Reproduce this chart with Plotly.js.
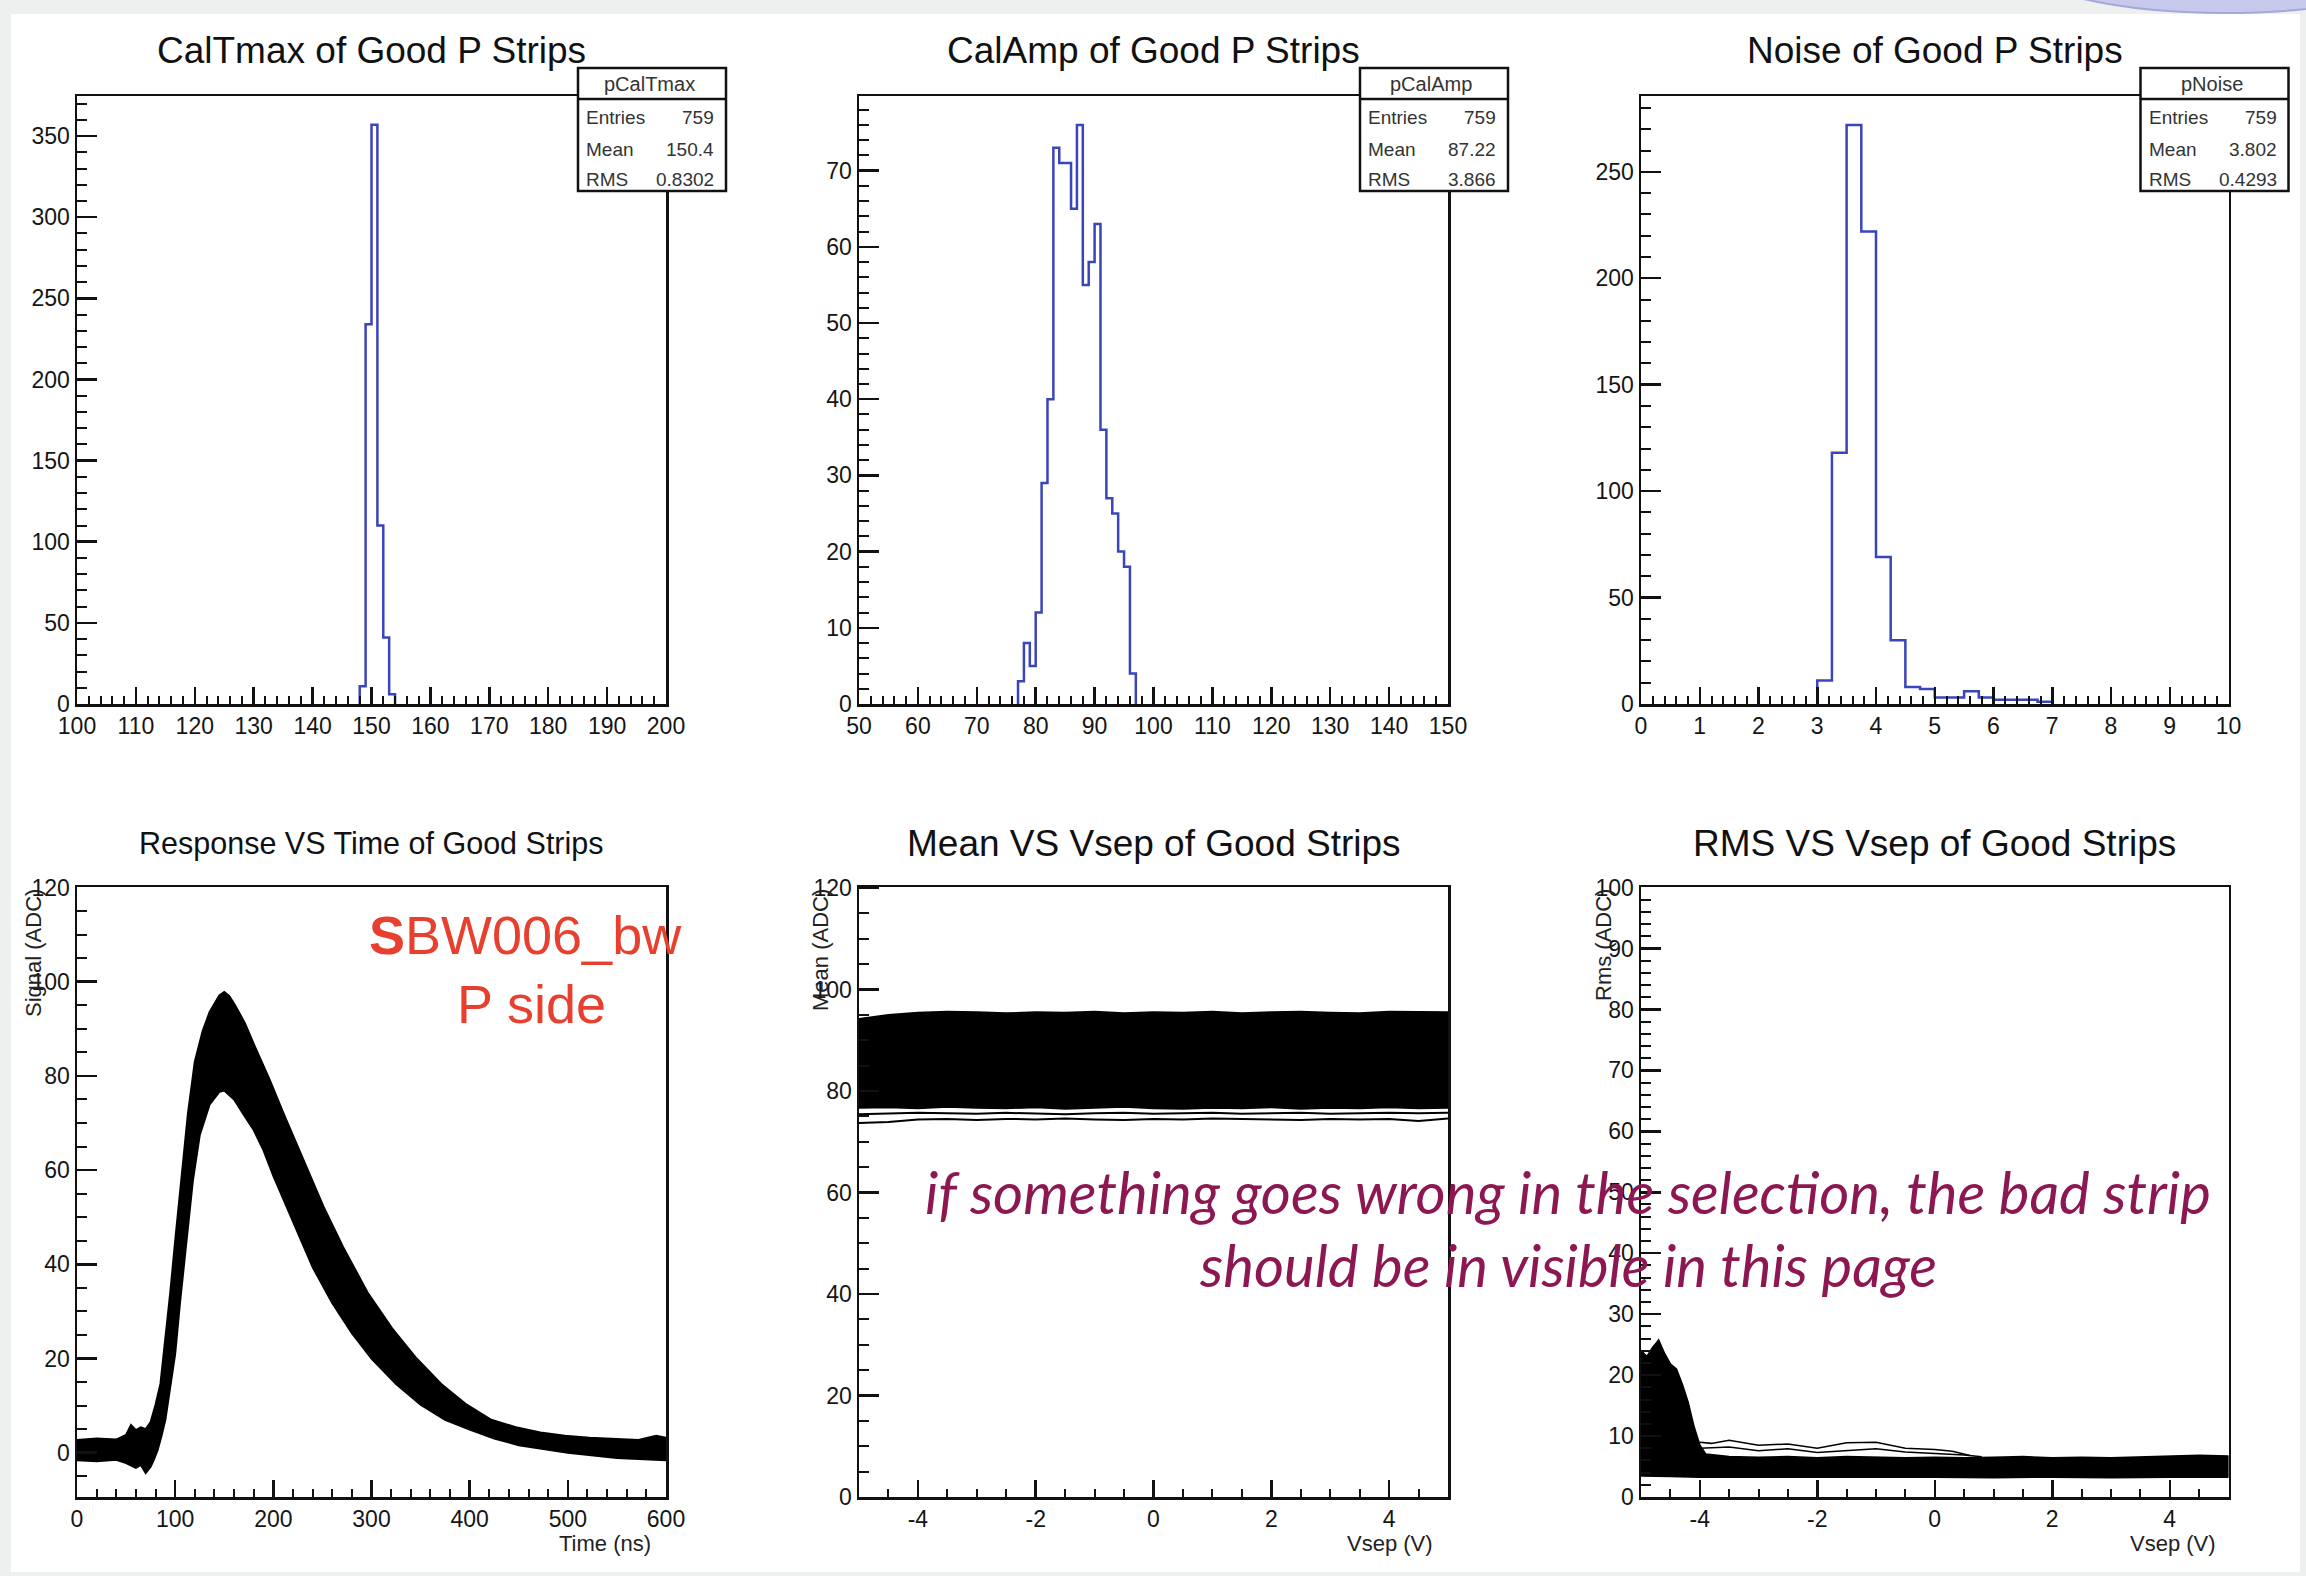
<!DOCTYPE html>
<html>
<head>
<meta charset="utf-8">
<script src="https://cdn.plot.ly/plotly-3.0.1.min.js"></script>
<style>html,body{margin:0;padding:0;background:#fff;}#chart{width:2306px;height:1576px;}</style>
</head>
<body>
<div id="chart"></div>
<script>
// ---------------- DATA ----------------
// CalTmax histogram (bin width 1, range 100-200)
const calTmaxBinLow = [148, 149, 150, 151, 152, 153];
const calTmaxCounts = [11, 234, 357, 110, 41, 6];
// CalAmp histogram (bin width 1, range 50-150)
const calAmpBinLow = [77, 78, 79, 80, 81, 82, 83, 84, 85, 86, 87, 88, 89, 90, 91, 92, 93, 94, 95, 96];
const calAmpCounts = [3, 8, 5, 12, 29, 40, 73, 71, 71, 65, 76, 55, 58, 63, 36, 27, 25, 20, 18, 4];
// Noise histogram (bin width 0.25, range 0-10)
const noiseBinLow = [3.0, 3.25, 3.5, 3.75, 4.0, 4.25, 4.5, 4.75, 5.0, 5.25, 5.5, 5.75, 6.0, 6.25, 6.5, 6.75];
const noiseCounts = [11, 118, 272, 222, 69, 30, 8, 7, 3, 3, 6, 3, 2, 2, 2, 1];

// Stats boxes
const statNames = ["pCalTmax", "pCalAmp", "pNoise"];
const statEntries = ["759", "759", "759"];
const statMean = ["150.4", "87.22", "3.802"];
const statRMS = ["0.8302", "3.866", "0.4293"];

// Response vs time: envelope of the band of all strip waveforms
const respUpperT = [0, 20, 40, 50, 55, 60, 65, 70, 75, 80, 85, 90, 95, 100, 105, 110, 113, 120, 128, 135, 145, 150, 155, 161, 171, 181, 196, 211, 231, 251, 271, 296, 321, 346, 371, 397, 422, 447, 472, 497, 522, 547, 572, 590, 600];
const respUpperV = [2.7, 3.0, 2.8, 3.8, 5.9, 4.8, 5.4, 5.0, 6.5, 10.2, 14.6, 24, 34, 45, 56, 66, 72, 83, 89.5, 93.5, 97.1, 97.8, 97, 95, 91.2, 86.3, 79.3, 71.7, 62, 52.3, 43.7, 34, 26.4, 20, 14.6, 10.2, 7, 5.4, 4.3, 3.6, 3.2, 3.0, 2.7, 3.6, 3.2];
const respLowerT = [0, 20, 40, 50, 60, 65, 70, 75, 78, 82, 86, 90, 95, 100, 105, 110, 118, 125, 135, 145, 150, 160, 170, 180, 190, 200, 220, 240, 260, 280, 300, 325, 350, 375, 400, 425, 450, 475, 500, 550, 600];
const respLowerV = [-1.6, -1.8, -1.5, -2.2, -3.2, -2.6, -4.3, -3.0, -1.6, 0.5, 3.5, 7, 14, 21, 32, 42.6, 57.7, 67.4, 73.9, 76.6, 76.9, 75, 71.7, 68.5, 64.2, 58.8, 49.1, 39.4, 31.8, 25.4, 20, 14.6, 10.2, 7, 4.9, 3.0, 1.6, 0.8, 0, -1.1, -1.6];

// Mean vs Vsep
const vsep = [-5, -4.5, -4, -3.5, -3, -2.5, -2, -1.5, -1, -0.5, 0, 0.5, 1, 1.5, 2, 2.5, 3, 3.5, 4, 4.5, 5];
const meanUpper = [94.2, 95.0, 95.4, 95.6, 95.5, 95.3, 95.5, 95.4, 95.6, 95.3, 95.5, 95.4, 95.6, 95.3, 95.5, 95.6, 95.4, 95.3, 95.6, 95.5, 95.5];
const meanLower = [76.7, 76.8, 76.6, 76.9, 76.7, 76.6, 76.8, 76.5, 76.7, 76.9, 76.6, 76.5, 76.7, 76.6, 76.8, 76.5, 76.7, 76.6, 76.8, 76.6, 76.7];
const meanLineA = [75.4, 75.5, 75.7, 75.6, 75.5, 75.7, 75.6, 75.4, 75.6, 75.7, 75.5, 75.6, 75.7, 75.5, 75.6, 75.7, 75.5, 75.6, 75.7, 75.6, 75.7];
const meanLineB = [73.7, 73.9, 74.4, 74.5, 74.3, 74.5, 74.4, 74.6, 74.4, 74.3, 74.5, 74.4, 74.6, 74.5, 74.4, 74.3, 74.5, 74.4, 74.5, 74.1, 74.6];

// RMS vs Vsep
const rmsUpperX = [-5, -4.9, -4.8, -4.7, -4.6, -4.5, -4.4, -4.3, -4.2, -4.1, -4.0, -3.9, -3.5, -3, -2.5, -2, -1.5, -1, -0.5, 0, 0.5, 1, 1.5, 2, 2.5, 3, 3.5, 4, 4.5, 5];
const rmsUpperV = [24.0, 23.0, 24.5, 25.7, 23.5, 21.8, 21.0, 18.5, 15.5, 11.5, 8.5, 7.0, 6.6, 6.5, 6.6, 6.4, 6.6, 6.5, 6.4, 6.5, 6.4, 6.5, 6.6, 6.4, 6.5, 6.4, 6.5, 6.6, 6.8, 6.7];
const rmsLowerX = [-5, -4.5, -4, -3, -2, -1, 0, 1, 2, 3, 4, 5];
const rmsLowerV = [3.5, 3.4, 3.3, 3.3, 3.2, 3.3, 3.3, 3.2, 3.3, 3.2, 3.3, 3.3];
const rmsLineAX = [-4.0, -3.8, -3.5, -3, -2.5, -2, -1.5, -1, -0.5, 0, 0.3, 0.6];
const rmsLineAV = [9.0, 8.8, 9.3, 8.5, 8.7, 8.0, 8.9, 9.0, 8.0, 7.8, 7.5, 6.8];
const rmsLineBX = [-4.0, -3.5, -3, -2.5, -2, -1.5, -1, -0.5, 0, 0.5, 0.8];
const rmsLineBV = [8.0, 8.2, 7.6, 7.9, 7.3, 7.6, 7.9, 7.4, 7.2, 6.9, 6.6];

// Texts
const panelTitles = ["CalTmax of Good P Strips", "CalAmp of Good P Strips", "Noise of Good P Strips",
  "Response VS Time of Good Strips", "Mean VS Vsep of Good Strips", "RMS VS Vsep of Good Strips"];
const vsepTickVals = [-4, -2, 0, 2, 4];
const vsepTickText = ["-4", "-2", "0", "2", "4"];

// ---------------- LAYOUT HELPERS ----------------
const W = 2306, H = 1576;
const fx = p => p / W;
const fy = p => 1 - p / H;
const cols = [[77, 666], [859, 1448], [1641, 2228.5]];
const rows = [[96, 704], [887, 1497]];
const FONT = "Liberation Sans, Arial, Helvetica, sans-serif";
const INK = "#111";

function histXY(lows, counts, w) {
  const x = [lows[0]], y = [0];
  for (let i = 0; i < lows.length; i++) { x.push(lows[i]); y.push(counts[i]); }
  x.push(lows[lows.length - 1] + w); y.push(0);
  return {x, y};
}

function ax(isX, range, dtick, minorDtick, idx, extra) {
  const r = Math.floor(idx / 3), c = idx % 3;
  const o = {
    range: range, autorange: false,
    domain: isX ? [fx(cols[c][0]), fx(cols[c][1])] : [fy(rows[r][1]), fy(rows[r][0])],
    showline: true, mirror: true, linecolor: INK, linewidth: 2.5,
    ticks: "inside", ticklen: isX ? 17 : 20, tickwidth: 2.5, tickcolor: INK,
    tickmode: "linear", tick0: 0, dtick: dtick,
    minor: {ticks: "inside", ticklen: isX ? 8 : 10, tickwidth: 2, tickcolor: INK, tickmode: "linear", tick0: 0, dtick: minorDtick, showgrid: false},
    showgrid: false, zeroline: false, fixedrange: true,
    tickfont: {family: FONT, size: 23, color: "#151515"},
    ticklabelstandoff: 0
  };
  Object.assign(o, extra || {});
  return o;
}

const layout = {
  width: W, height: H,
  margin: {l: 0, r: 0, t: 0, b: 0},
  paper_bgcolor: "#eef0f0",
  plot_bgcolor: "#ffffff",
  showlegend: false,
  xaxis:  ax(true, [100, 200], 10, 2, 0, {anchor: "y"}),
  yaxis:  ax(false, [0, 374.7], 50, 10, 0, {anchor: "x"}),
  xaxis2: ax(true, [50, 150], 10, 2, 1, {anchor: "y2"}),
  yaxis2: ax(false, [0, 79.8], 10, 2, 1, {anchor: "x2"}),
  xaxis3: ax(true, [0, 10], 1, 0.2, 2, {anchor: "y3"}),
  yaxis3: ax(false, [0, 285.6], 50, 10, 2, {anchor: "x3"}),
  xaxis4: ax(true, [0, 600], 100, 20, 3, {anchor: "y4"}),
  yaxis4: ax(false, [-9.4, 120.1], 20, 5, 3, {anchor: "x4"}),
  xaxis5: ax(true, [-5, 5], 2, 0.5, 4, {anchor: "y5", tickmode: "array", tickvals: vsepTickVals, ticktext: vsepTickText}),
  yaxis5: ax(false, [0, 120.2], 20, 5, 4, {anchor: "x5"}),
  xaxis6: ax(true, [-5, 5], 2, 0.5, 5, {anchor: "y6", tickmode: "array", tickvals: vsepTickVals, ticktext: vsepTickText}),
  yaxis6: ax(false, [0, 100.1], 10, 2, 5, {anchor: "x6"}),
  shapes: [], annotations: []
};

// Slide background: white page with light grey border
layout.shapes.push({type: "rect", xref: "paper", yref: "paper", layer: "below",
  x0: fx(11), x1: fx(2300), y0: fy(1572), y1: fy(14), fillcolor: "#ffffff", line: {width: 0}});
// Lavender decoration top right
layout.shapes.push({type: "circle", xref: "paper", yref: "paper", layer: "below",
  x0: fx(1995), x1: fx(2455), y0: fy(13), y1: fy(-120), fillcolor: "#c6c9ec", line: {color: "#a3a8dc", width: 2}});

// Titles
const titleY = [50, 843];
const titleSize = [37, 37, 37, 30.5, 37, 37];
panelTitles.forEach((t, i) => {
  const r = Math.floor(i / 3), c = i % 3;
  layout.annotations.push({text: t, xref: "paper", yref: "paper", showarrow: false,
    x: fx((cols[c][0] + cols[c][1]) / 2), y: fy(titleY[r]), xanchor: "center", yanchor: "middle",
    font: {family: FONT, size: titleSize[i], color: "#111"}});
});

// Stats boxes
statNames.forEach((n, c) => {
  const right = cols[c][1];
  const x0 = right - 88, x1 = right + 60, y0 = 68, y1 = 191, yh = 99;
  layout.shapes.push({type: "rect", xref: "paper", yref: "paper", layer: "above",
    x0: fx(x0), x1: fx(x1), y0: fy(y1), y1: fy(y0), fillcolor: "#ffffff", line: {color: INK, width: 2.5}});
  layout.shapes.push({type: "line", xref: "paper", yref: "paper", layer: "above",
    x0: fx(x0), x1: fx(x1), y0: fy(yh), y1: fy(yh), line: {color: INK, width: 2.5}});
  const f = {family: FONT, size: 19, color: "#333"};
  layout.annotations.push({text: n, xref: "paper", yref: "paper", showarrow: false,
    x: fx((x0 + x1) / 2 - 3), y: fy(84), xanchor: "center", yanchor: "middle", font: {family: FONT, size: 20, color: "#333"}});
  const labels = ["Entries", "Mean", "RMS"], vals = [statEntries[c], statMean[c], statRMS[c]], ys = [118, 149, 180];
  labels.forEach((l, k) => {
    layout.annotations.push({text: l, xref: "paper", yref: "paper", showarrow: false,
      x: fx(x0 + 6), y: fy(ys[k]), xanchor: "left", yanchor: "middle", font: f});
    layout.annotations.push({text: vals[k], xref: "paper", yref: "paper", showarrow: false,
      x: fx(x1 - 10), y: fy(ys[k]), xanchor: "right", yanchor: "middle", font: f});
  });
});

// Axis titles (ROOT style, at axis ends)
const axF = {family: FONT, size: 22, color: "#222"};
[["Signal (ADC)", 33], ["Mean (ADC)", 820], ["Rms (ADC)", 1603]].forEach(([t, x]) => {
  layout.annotations.push({text: t, textangle: -90, xref: "paper", yref: "paper", showarrow: false,
    x: fx(x), y: fy(887), xanchor: "center", yanchor: "top", font: axF});
});
[["Time (ns)", 653], ["Vsep (V)", 1435], ["Vsep (V)", 2218]].forEach(([t, x]) => {
  layout.annotations.push({text: t, xref: "paper", yref: "paper", showarrow: false,
    x: fx(x), y: fy(1543), xanchor: "right", yanchor: "middle", font: axF});
});

// Red label
layout.annotations.push({text: "<b>S</b>BW006_bw", xref: "paper", yref: "paper", showarrow: false,
  x: fx(367), y: fy(935), xanchor: "left", yanchor: "middle", font: {family: FONT, size: 54, color: "#e8402f"}});
layout.annotations.push({text: "P side", xref: "paper", yref: "paper", showarrow: false,
  x: fx(455), y: fy(1004), xanchor: "left", yanchor: "middle", font: {family: FONT, size: 54, color: "#e8402f"}});

// Italic comment
const cmt = {family: "Lato, Open Sans, sans-serif", size: 58, color: "#8c1751", style: "italic"};
layout.annotations.push({text: "if something goes wrong in the selection, the bad strip", xref: "paper", yref: "paper", showarrow: false,
  x: fx(1568), y: fy(1191), xanchor: "center", yanchor: "middle", font: cmt});
layout.annotations.push({text: "should be in visible in this page", xref: "paper", yref: "paper", showarrow: false,
  x: fx(1568), y: fy(1264), xanchor: "center", yanchor: "middle", font: cmt});

// ---------------- TRACES ----------------
const blue = "#3a44bb";
const h1 = histXY(calTmaxBinLow, calTmaxCounts, 1);
const h2 = histXY(calAmpBinLow, calAmpCounts, 1);
const h3 = histXY(noiseBinLow, noiseCounts, 0.25);
const band = (xs, ys, xl, yl, xa, ya) => ({
  type: "scatter", mode: "lines", xaxis: xa, yaxis: ya,
  x: xs.concat(xl.slice().reverse()), y: ys.concat(yl.slice().reverse()),
  fill: "toself", fillcolor: "#000", line: {color: "#000", width: 2}, hoverinfo: "skip"
});
const data = [
  {type: "scatter", mode: "lines", x: h1.x, y: h1.y, xaxis: "x", yaxis: "y", line: {shape: "hv", color: blue, width: 2.5}},
  {type: "scatter", mode: "lines", x: h2.x, y: h2.y, xaxis: "x2", yaxis: "y2", line: {shape: "hv", color: blue, width: 2.5}},
  {type: "scatter", mode: "lines", x: h3.x, y: h3.y, xaxis: "x3", yaxis: "y3", line: {shape: "hv", color: blue, width: 2.5}},
  band(respUpperT, respUpperV, respLowerT, respLowerV, "x4", "y4"),
  band(vsep, meanUpper, vsep, meanLower, "x5", "y5"),
  {type: "scatter", mode: "lines", x: vsep, y: meanLineA, xaxis: "x5", yaxis: "y5", line: {color: "#000", width: 2}},
  {type: "scatter", mode: "lines", x: vsep, y: meanLineB, xaxis: "x5", yaxis: "y5", line: {color: "#000", width: 2}},
  band(rmsUpperX, rmsUpperV, rmsLowerX, rmsLowerV, "x6", "y6"),
  {type: "scatter", mode: "lines", x: rmsLineAX, y: rmsLineAV, xaxis: "x6", yaxis: "y6", line: {color: "#000", width: 1.5}},
  {type: "scatter", mode: "lines", x: rmsLineBX, y: rmsLineBV, xaxis: "x6", yaxis: "y6", line: {color: "#000", width: 1.5}}
];

Plotly.newPlot("chart", data, layout, {staticPlot: true, displayModeBar: false});
</script>
</body>
</html>
